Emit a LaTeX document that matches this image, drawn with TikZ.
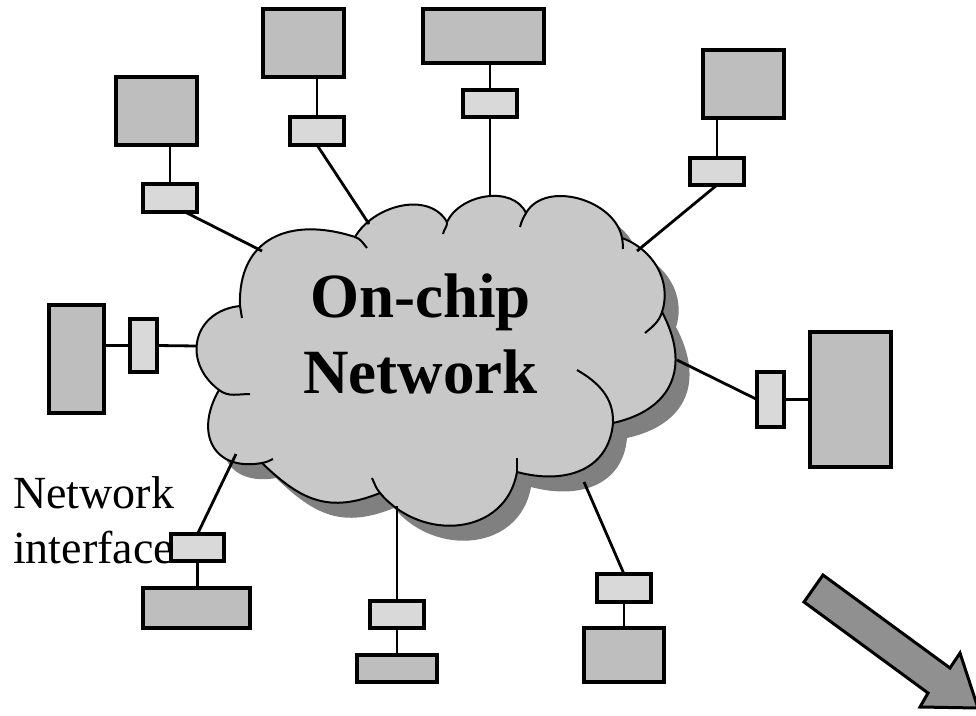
\documentclass[tikz,border=0pt]{standalone}
\usepackage{fontspec}
\setmainfont{Liberation Serif}
\usetikzlibrary{calc}
\definecolor{corefill}{HTML}{BEBEBE}
\definecolor{nifill}{HTML}{D9D9D9}
\definecolor{cloudfill}{HTML}{C8C8C8}
\definecolor{shadowfill}{HTML}{808080}
\definecolor{arrowfill}{HTML}{909090}
\tikzset{
  core/.style={draw=black, line width=3.2pt, fill=corefill, inner sep=0pt, outer sep=0pt},
  nibox/.style={draw=black, line width=3.2pt, fill=nifill, inner sep=0pt, outer sep=0pt},
  conn/.style={draw=black, line width=2.8pt},
  cloudline/.style={draw=black, line width=2pt},
}
\def\cloudpath{(240,-306) to[out=92,in=162,looseness=1.3] (355,-237)
  to[out=60,in=120] (447,-222)
  to[out=65,in=115] (526,-213)
  to[out=60,in=100] (622,-238)
  to[out=-20,in=72] (662,-312)
  to[out=-62,in=12.5,looseness=1.3] (613,-423)
  to[out=-95,in=-15,looseness=1.15] (517,-472)
  to[out=-100,in=-50,looseness=1.2] (380,-493)
  to[out=202,in=-44,looseness=1.15] (262,-463)
  to[out=190,in=240,looseness=1.5] (219,-390)
  to[out=143,in=186,looseness=1.4] (240,-306) -- cycle}
\begin{document}
\begin{tikzpicture}[x=1pt,y=1pt]
\useasboundingbox (0,0) rectangle (976,-715);
\fill[white] (0,0) rectangle (976,-715);

% cloud shadow and cloud
\fill[shadowfill, shift={(14,-15)}] \cloudpath;
\path[fill=cloudfill, cloudline] \cloudpath;
% inner tails of the cloud bumps
\draw[cloudline] (240,-306) -- (242,-318);
\draw[cloudline] (355,-237) to[out=-18,in=130] (367,-248);
\draw[cloudline] (447,-222) to[out=-85,in=80] (443,-234);
\draw[cloudline] (526,-213) to[out=240,in=75] (520,-227);
\draw[cloudline] (622,-238) to[out=-80,in=92] (623,-249);
\draw[cloudline] (662,-312) to[out=252,in=40] (645,-333);
\draw[cloudline] (613,-423) to[out=88,in=-30] (577,-370);
\draw[cloudline] (517,-472) -- (517,-458);
\draw[cloudline] (380,-493) to[out=130,in=-65] (372,-478);
\draw[cloudline] (262,-463) to[out=10,in=205] (273,-459);
\draw[cloudline] (219,-390) to[out=-37,in=180] (250,-394);

% cloud attachment points
\coordinate (cA) at (262,-251);
\coordinate (cB) at (369,-224);
\coordinate (cC) at (490,-197);
\coordinate (cD) at (637,-251);
\coordinate (cE) at (677,-360);
\coordinate (cF) at (197,-346);
\coordinate (cG) at (236,-454);
\coordinate (cI) at (397,-506);
\coordinate (cK) at (584,-482);

% core boxes
\node[core, minimum width=81pt, minimum height=68pt] (A) at (156.5,-111) {};
\node[core, minimum width=81pt, minimum height=68pt] (B) at (303.5,-43) {};
\node[core, minimum width=121pt, minimum height=54pt] (C) at (483.5,-36) {};
\node[core, minimum width=81pt, minimum height=68pt] (D) at (743.5,-84) {};
\node[core, minimum width=81pt, minimum height=135pt] (E) at (850.5,-399.5) {};
\node[core, minimum width=55pt, minimum height=108pt] (F) at (76.5,-359) {};
\node[core, minimum width=107pt, minimum height=40pt] (G) at (196.5,-608) {};
\node[core, minimum width=80pt, minimum height=27pt] (I) at (397,-668.5) {};
\node[core, minimum width=80pt, minimum height=54pt] (K) at (624,-655) {};

% network interfaces
\node[nibox, minimum width=54pt, minimum height=28pt] (nA) at (170,-198) {};
\node[nibox, minimum width=54pt, minimum height=28pt] (nB) at (317,-131) {};
\node[nibox, minimum width=54pt, minimum height=27pt] (nC) at (490,-103.5) {};
\node[nibox, minimum width=54pt, minimum height=27pt] (nD) at (717,-171.5) {};
\node[nibox, minimum width=27pt, minimum height=55pt] (nE) at (770.5,-399.5) {};
\node[nibox, minimum width=27pt, minimum height=53pt] (nF) at (143.5,-345.5) {};
\node[nibox, minimum width=53pt, minimum height=27pt] (nG) at (197.5,-547.5) {};
\node[nibox, minimum width=54pt, minimum height=27pt] (nI) at (397,-614.5) {};
\node[nibox, minimum width=54pt, minimum height=28pt] (nK) at (624,-588) {};

% connectors
\draw[conn] (nA.north) -- (nA.north |- A.south);
\draw[conn] ($(nA.south)+(15,0)$) -- (cA);
\draw[conn] (nB.north) -- (nB.north |- B.south);
\draw[conn] (nB.south) -- (cB);
\draw[conn] (nC.north) -- (nC.north |- C.south);
\draw[conn] (nC.south) -- (cC);
\draw[conn] (nD.north) -- (nD.north |- D.south);
\draw[conn] (nD.south) -- (cD);
\draw[conn] (nE.east) -- (nE.east -| E.west);
\draw[conn] (nE.west) -- (cE);
\draw[conn] (nF.west) -- (nF.west -| F.east);
\draw[conn] (nF.east) -- (cF);
\draw[conn] (nG.south) -- (nG.south |- G.north);
\draw[conn] (nG.north) -- (cG);
\draw[conn] (nI.south) -- (I.north);
\draw[conn] (nI.north) -- (cI);
\draw[conn] (nK.south) -- (K.north);
\draw[conn] (nK.north) -- (cK);

% big arrow
\filldraw[fill=arrowfill, draw=black, line width=3pt, line join=miter]
  (823,-575) -- (950,-668) -- (960,-653) -- (978,-708) -- (920,-707)
  -- (928,-693) -- (804,-602) -- cycle;

% texts
\node[anchor=base, inner sep=0pt, font=\fontsize{63}{76}\selectfont\bfseries] (oc1) at (420.5,-317) {On-chip};
\node[anchor=base, inner sep=0pt, font=\fontsize{63}{76}\selectfont\bfseries] (oc2) at (420.5,-393) {Network};
\node[anchor=base west, inner sep=0pt, font=\fontsize{46}{55}\selectfont] (t1) at (13,-508) {Network};
\node[anchor=base west, inner sep=0pt, font=\fontsize{46}{55}\selectfont] (t2) at (13,-563) {interface};
\end{tikzpicture}
\end{document}
